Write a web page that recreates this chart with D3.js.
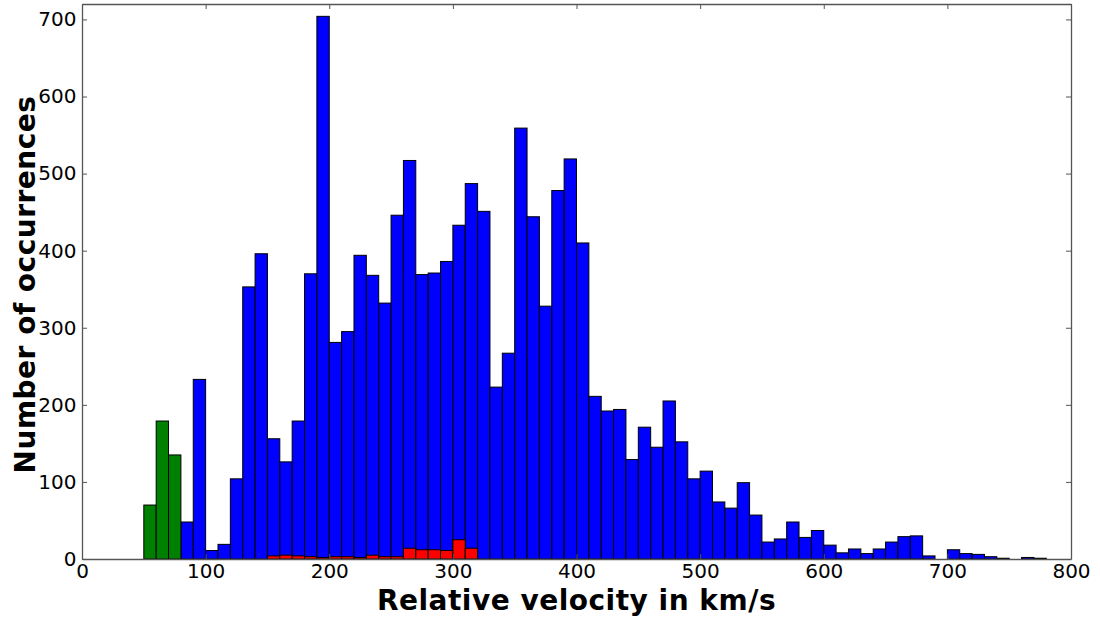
<!DOCTYPE html>
<html>
<head>
<meta charset="utf-8">
<script src="https://cdn.jsdelivr.net/npm/d3@7"></script>
<style>
  html, body { margin: 0; padding: 0; background: #fff; }
  svg { display: block; }
</style>
</head>
<body>
<svg id="chart" width="1100" height="617"></svg>
<script>
// Histogram of relative velocities, 10 km/s bins
const binWidth = 10;

// Low-velocity group (green), bins starting at 50 km/s
const greenStart = 50;
const greenCounts = [70, 179, 135];

// Main population (blue), bins starting at 10 km/s
const blueStart = 10;
const blueCounts = [
  0, 0, 0, 0, null, null, null,
  48, 233, 11, 19, 104, 353, 396, 156, 126, 179,
  370, 704, 281, 295, 394, 368, 332, 446, 517, 369,
  371, 386, 433, 487, 451, 223, 267, 559, 444, 328,
  478, 519, 410, 211, 192, 194, 129, 171, 145, 205,
  152, 104, 114, 74, 66, 99, 57, 22, 26, 48,
  28, 37, 18, 8, 13, 7, 13, 22, 29, 30,
  4, 0, 12, 7, 6, 3, 1, 0, 2, 1, 0
];

// Sub-sample (red), bins starting at 150 km/s
const redStart = 150;
const redCounts = [4, 5, 4, 3, 2, 3, 3, 2, 5, 3, 3, 14, 12, 12, 11, 25, 14];

const xTicks = [0, 100, 200, 300, 400, 500, 600, 700, 800];
const yTicks = [0, 100, 200, 300, 400, 500, 600, 700];

const margin = { left: 82, right: 29, top: 4, bottom: 58 };
const W = 1100, H = 617;

const svg = d3.select("#chart");
const x = d3.scaleLinear().domain([0, 800]).range([margin.left, W - margin.right]);
const y = d3.scaleLinear().domain([0, 720]).range([H - margin.bottom, margin.top]);

function toBins(start, counts) {
  return counts.map((c, i) => ({ x0: start + i * binWidth, c }))
               .filter(d => d.c !== null);
}

function drawBars(data, fill) {
  svg.append("g").selectAll("rect").data(data).join("rect")
    .attr("x", d => x(d.x0))
    .attr("width", d => x(d.x0 + binWidth) - x(d.x0))
    .attr("y", d => y(d.c))
    .attr("height", d => y(0) - y(d.c))
    .attr("fill", fill)
    .attr("stroke", "#000")
    .attr("stroke-width", 1);
}

drawBars(toBins(blueStart, blueCounts), "#0000ff");
drawBars(toBins(greenStart, greenCounts), "#008000");
drawBars(toBins(redStart, redCounts), "#ff0000");

// Axes with inward ticks on all four sides
const tickLen = 5;
const font = "DejaVu Sans, sans-serif";

const axBottom = svg.append("g").attr("transform", `translate(0,${y(0)})`)
  .call(d3.axisBottom(x).tickValues(xTicks).tickSizeInner(-tickLen).tickSizeOuter(0).tickPadding(5));
const axTop = svg.append("g").attr("transform", `translate(0,${y(720)})`)
  .call(d3.axisTop(x).tickValues(xTicks).tickSizeInner(-tickLen).tickSizeOuter(0).tickFormat(""));
const axLeft = svg.append("g").attr("transform", `translate(${x(0)},0)`)
  .call(d3.axisLeft(y).tickValues(yTicks).tickSizeInner(-tickLen).tickSizeOuter(0).tickPadding(5.5));
const axRight = svg.append("g").attr("transform", `translate(${x(800)},0)`)
  .call(d3.axisRight(y).tickValues(yTicks).tickSizeInner(-tickLen).tickSizeOuter(0).tickFormat(""));

[axBottom, axTop, axLeft, axRight].forEach(g => {
  g.select(".domain").attr("stroke", "#555").attr("stroke-width", 1.3);
  g.selectAll(".tick line").attr("stroke", "#555").attr("stroke-width", 1);
  g.selectAll(".tick text").attr("font-family", font).attr("font-size", 20).attr("fill", "#000");
});

// Axis titles
svg.append("text")
  .attr("x", (x(0) + x(800)) / 2)
  .attr("y", 610)
  .attr("text-anchor", "middle")
  .attr("font-family", font)
  .attr("font-weight", "bold")
  .attr("font-size", 28)
  .attr("letter-spacing", 0.5)
  .text("Relative velocity in km/s");

svg.append("text")
  .attr("transform", `translate(35,${(y(0) + y(720)) / 2 + 3}) rotate(-90)`)
  .attr("text-anchor", "middle")
  .attr("font-family", font)
  .attr("font-weight", "bold")
  .attr("font-size", 28)
  .attr("letter-spacing", 0.5)
  .text("Number of occurrences");
</script>
</body>
</html>
